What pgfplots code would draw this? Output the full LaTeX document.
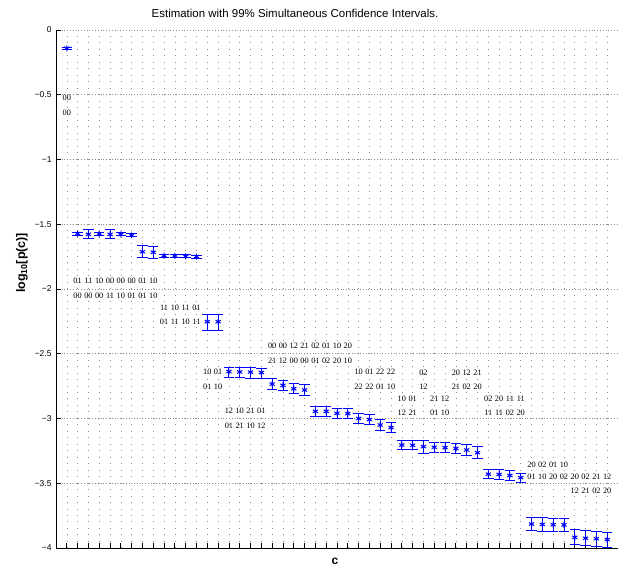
\documentclass[border=0pt]{standalone}
\usepackage{fontspec}
\setmainfont{Liberation Sans}
\newfontfamily\seriff{Liberation Serif}
\usepackage{pgfplots}
\pgfplotsset{compat=1.18}
\usepackage{pgfplotstable}

\definecolor{mblue}{RGB}{0,0,255}

\pgfplotstableread{
x y ep em
1 -0.141 0.006 0.006
2 -1.572 0.012 0.012
3 -1.578 0.035 0.035
4 -1.574 0.012 0.012
5 -1.578 0.035 0.035
6 -1.578 0.012 0.012
7 -1.585 0.012 0.012
8 -1.712 0.046 0.046
9 -1.716 0.046 0.046
10 -1.743 0.012 0.012
11 -1.745 0.012 0.012
12 -1.748 0.012 0.012
13 -1.750 0.012 0.012
14 -2.252 0.056 0.065
15 -2.252 0.056 0.065
16 -2.638 0.035 0.045
17 -2.640 0.035 0.045
18 -2.642 0.035 0.045
19 -2.645 0.035 0.045
20 -2.734 0.040 0.040
21 -2.744 0.040 0.040
22 -2.770 0.040 0.040
23 -2.780 0.040 0.040
24 -2.945 0.040 0.040
25 -2.945 0.040 0.040
26 -2.960 0.040 0.040
27 -2.962 0.040 0.040
28 -3.000 0.040 0.040
29 -3.008 0.040 0.040
30 -3.050 0.040 0.040
31 -3.070 0.040 0.040
32 -3.205 0.035 0.035
33 -3.207 0.035 0.035
34 -3.217 0.050 0.050
35 -3.222 0.040 0.040
36 -3.225 0.040 0.040
37 -3.232 0.040 0.040
38 -3.243 0.040 0.040
39 -3.264 0.045 0.045
40 -3.430 0.035 0.035
41 -3.432 0.035 0.035
42 -3.440 0.035 0.035
43 -3.456 0.035 0.035
44 -3.815 0.052 0.052
45 -3.818 0.052 0.052
46 -3.820 0.052 0.052
47 -3.822 0.052 0.052
48 -3.918 0.058 0.058
49 -3.925 0.058 0.058
50 -3.928 0.058 0.058
51 -3.935 0.058 0.058
}\datatab

\tikzset{lab/.style={font=\seriff\fontsize{8.3}{9}\selectfont, inner sep=0pt, text=black}}
\newcommand{\lb}[5]{\node[lab] at (axis cs:#1,#2) {#4};\node[lab] at (axis cs:#1,#3) {#5};}

\begin{document}
\begin{tikzpicture}
\begin{axis}[
  scale only axis, width=562bp, height=518bp,
  xmin=0, xmax=52, ymin=-4, ymax=0,
  axis lines=left, axis line style={-, line width=0.9pt},
  tick align=inside, major tick length=5bp,
  tick style={black, line width=0.8pt},
  xtick={1,...,52}, xticklabels={},
  ytick={-4,-3.5,-3,-2.5,-2,-1.5,-1,-0.5,0},
  yticklabels={−4,−3.5,−3,−2.5,−2,−1.5,−1,−0.5,0},
  yticklabel style={font=\fontsize{8.5}{10}\selectfont, xshift=-1bp},
  grid=major,
  x grid style={black!45, line width=0.55pt, dash pattern=on 0.6pt off 5.9pt},
  y grid style={black!45, line width=0.55pt, dash pattern=on 0.6pt off 2.2pt},
  clip=false,
]
\addplot[mblue, only marks, mark=asterisk, mark size=3pt,
  mark options={line width=1pt},
  error bars/.cd, y dir=both, y explicit,
  error bar style={mblue, line width=0.9pt},
  error mark options={mblue, rotate=90, mark size=5.2bp, line width=0.9pt}]
  table[x=x, y=y, y error plus=ep, y error minus=em]{\datatab};
\lb{1}{-0.525}{-0.641}{00}{00}
\lb{2}{-1.938}{-2.054}{01}{00}
\lb{3}{-1.938}{-2.054}{11}{00}
\lb{4}{-1.938}{-2.054}{10}{00}
\lb{5}{-1.938}{-2.054}{00}{11}
\lb{6}{-1.938}{-2.054}{00}{10}
\lb{7}{-1.938}{-2.054}{00}{01}
\lb{8}{-1.938}{-2.054}{01}{01}
\lb{9}{-1.938}{-2.054}{10}{10}
\lb{10}{-2.144}{-2.253}{11}{01}
\lb{11}{-2.144}{-2.253}{10}{11}
\lb{12}{-2.144}{-2.253}{11}{10}
\lb{13}{-2.144}{-2.253}{01}{11}
\lb{14}{-2.639}{-2.754}{10}{01}
\lb{15}{-2.639}{-2.754}{01}{10}
\lb{16}{-2.938}{-3.058}{12}{01}
\lb{17}{-2.938}{-3.058}{10}{21}
\lb{18}{-2.938}{-3.058}{21}{10}
\lb{19}{-2.938}{-3.058}{01}{12}
\lb{20}{-2.440}{-2.554}{00}{21}
\lb{21}{-2.440}{-2.554}{00}{12}
\lb{22}{-2.440}{-2.554}{12}{00}
\lb{23}{-2.440}{-2.554}{21}{00}
\lb{24}{-2.440}{-2.554}{02}{01}
\lb{25}{-2.440}{-2.554}{01}{02}
\lb{26}{-2.440}{-2.554}{10}{20}
\lb{27}{-2.440}{-2.554}{20}{10}
\lb{28}{-2.641}{-2.757}{10}{22}
\lb{29}{-2.641}{-2.757}{01}{22}
\lb{30}{-2.641}{-2.757}{22}{01}
\lb{31}{-2.641}{-2.757}{22}{10}
\lb{32}{-2.849}{-2.955}{10}{12}
\lb{33}{-2.849}{-2.955}{01}{21}
\lb{34}{-2.646}{-2.754}{02}{12}
\lb{35}{-2.849}{-2.955}{21}{01}
\lb{36}{-2.849}{-2.955}{12}{10}
\lb{37}{-2.646}{-2.754}{20}{21}
\lb{38}{-2.646}{-2.754}{12}{02}
\lb{39}{-2.646}{-2.754}{21}{20}
\lb{40}{-2.849}{-2.955}{02}{11}
\lb{41}{-2.849}{-2.955}{20}{11}
\lb{42}{-2.849}{-2.955}{11}{02}
\lb{43}{-2.849}{-2.955}{11}{20}
\lb{44}{-3.354}{-3.449}{20}{01}
\lb{45}{-3.354}{-3.449}{02}{10}
\lb{46}{-3.354}{-3.449}{01}{20}
\lb{47}{-3.354}{-3.449}{10}{02}
\lb{48}{-3.449}{-3.558}{20}{12}
\lb{49}{-3.449}{-3.558}{02}{21}
\lb{50}{-3.449}{-3.558}{21}{02}
\lb{51}{-3.449}{-3.558}{12}{20}
\end{axis}
\node[font=\fontsize{11.5}{13}\selectfont] at (239bp,535bp) {Estimation with 99\% Simultaneous Confidence Intervals.};
\node[font=\bfseries\fontsize{12.5}{14}\selectfont, rotate=90] at (-34bp,285bp) {log\textsubscript{10}[p(c)]};
\node[font=\bfseries\fontsize{12}{14}\selectfont] at (279bp,-13bp) {c};
\pgfresetboundingbox
\path[use as bounding box] (-56bp,-23bp) rectangle (562bp,548bp);
\end{tikzpicture}
\end{document}
